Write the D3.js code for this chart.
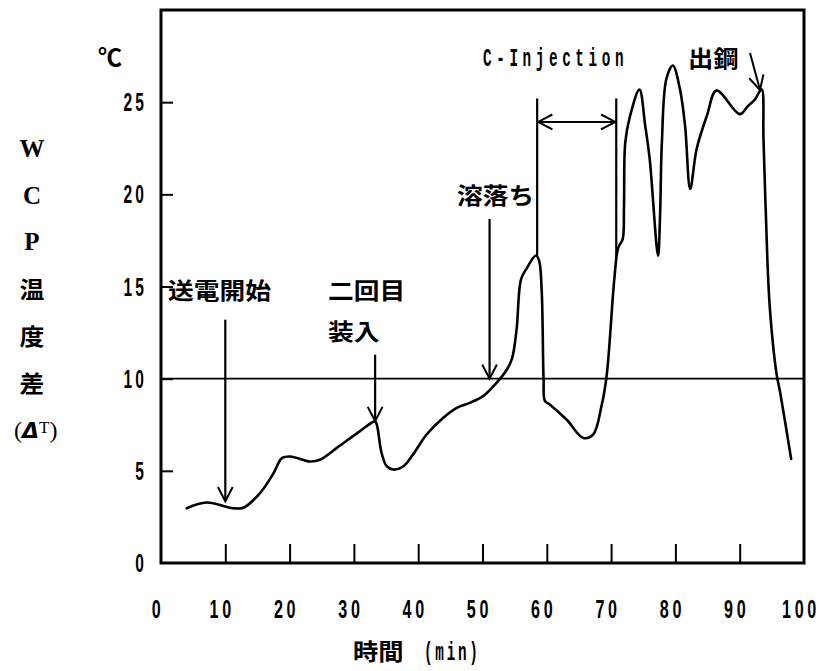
<!DOCTYPE html>
<html>
<head>
<meta charset="utf-8">
<script src="https://cdn.jsdelivr.net/npm/d3@7"></script>
<style>
  html, body { margin: 0; padding: 0; background: #fff; }
  svg { display: block; }
</style>
</head>
<body>
<svg id="chart" width="819" height="671"></svg>
<script>
// WCP temperature difference during one heat (time in minutes, ΔT in ℃)
const timeMin = [
  4.0, 7.1, 11.2, 12.8, 15.4, 17.5, 18.8, 20.1, 23.2, 24.7,
  27.3, 30.9, 33.3, 33.6, 34.3, 35.1, 36.1, 37.7, 39.2, 41.3,
  43.9, 46.0, 48.1, 50.1, 52.2, 53.8, 54.6, 55.3, 56.0, 56.9,
  58.3, 58.8, 59.2, 59.5, 59.7, 60.5, 63.1, 65.7, 67.2, 68.5,
  69.3, 70.5, 71.1, 71.8, 72.0, 72.2, 72.9, 74.4, 75.3, 76.0,
  77.3, 77.6, 77.9, 78.6, 79.6, 80.7, 81.5, 82.3, 83.3, 84.9,
  86.4, 90.0, 91.3, 92.4, 93.4, 93.7, 94.3, 94.7, 95.7, 96.3,
  98.0
];
const deltaT = [
  2.97, 3.28, 2.97, 3.00, 3.79, 4.87, 5.69, 5.78, 5.51, 5.60,
  6.23, 7.14, 7.68, 7.45, 5.98, 5.25, 5.07, 5.25, 5.89, 6.97,
  7.88, 8.42, 8.70, 9.05, 9.78, 10.50, 11.10, 12.66, 15.40, 16.00,
  16.68, 16.40, 14.84, 9.95, 8.80, 8.59, 7.77, 6.78, 6.96, 8.50,
  10.13, 15.40, 17.10, 17.57, 19.20, 22.80, 24.18, 25.68, 23.73, 21.92,
  16.66, 18.66, 22.83, 26.27, 26.99, 25.72, 23.73, 20.29, 22.46, 24.27,
  25.63, 24.35, 24.80, 25.16, 25.70, 23.00, 16.49, 13.77, 10.33, 9.24,
  5.65
];

const xTicks = [0, 10, 20, 30, 40, 50, 60, 70, 80, 90, 100];
const yTicks = [0, 5, 10, 15, 20, 25];
const referenceLevel = 10;

const yTitleParts = ["W", "C", "P", "温", "度", "差"];
const unitLabel = "℃";
const xTitle = ["時間", "(min)"];

// event markers: label lines, time, arrow top value, arrow tip value
const eventNames = [["送電開始"], ["二回目", "装入"], ["溶落ち"]];
const eventTimes = [10, 33.3, 51.1];
const eventTops = [13.2, 11.3, 18.66];
const eventTips = [3.35, 7.7, 10.0];

const injectionLabel = "C-Injection";
const injectionStart = 58.5, injectionEnd = 70.8;
const tapLabel = "出鋼";

// ---------------------------------------------------------------
const svg = d3.select("#chart");
const ink = "#000";

const x = d3.scaleLinear().domain([0, 100]).range([161, 804]);
const y = d3.scaleLinear().domain([0, 30]).range([563, 10]);

const jp = "'Noto Sans CJK JP', 'Noto Sans CJK SC', sans-serif";
const num = "'Liberation Sans', 'DejaVu Sans', sans-serif";
const mono = "'Liberation Mono', 'DejaVu Sans Mono', monospace";

// text helper: draws condensed / stretched glyphs via a horizontal scale
function txt(px, py, s, o = {}) {
  const g = svg.append("g")
    .attr("transform", `translate(${px},${py}) scale(${o.sx || 1},1)`);
  const t = g.append("text")
    .attr("x", 0).attr("y", 0)
    .attr("font-family", o.family || jp)
    .attr("font-size", o.size || 23)
    .attr("font-weight", o.weight || "bold")
    .attr("text-anchor", o.anchor || "start")
    .attr("fill", ink)
    .text(s);
  if (o.spacing) t.attr("letter-spacing", o.spacing);
  return t;
}

// open V arrow head at (x2,y2) pointing away from (x1,y1)
function head(x1, y1, x2, y2, len = 16, spread = 0.48) {
  const a = Math.atan2(y2 - y1, x2 - x1);
  const pts = [-spread, spread].map(d => [x2 - len * Math.cos(a + d), y2 - len * Math.sin(a + d)]);
  svg.append("path")
    .attr("d", `M${pts[0][0]},${pts[0][1]}L${x2},${y2}L${pts[1][0]},${pts[1][1]}`)
    .attr("fill", "none").attr("stroke", ink).attr("stroke-width", 2)
    .attr("stroke-linejoin", "miter");
}
function arrow(x1, y1, x2, y2, w = 2.2) {
  svg.append("line").attr("x1", x1).attr("y1", y1).attr("x2", x2).attr("y2", y2)
    .attr("stroke", ink).attr("stroke-width", w);
  head(x1, y1, x2, y2);
}

// ----- frame -----
const [x0, x1] = x.range();
const [y0, y1] = y.range();
svg.append("rect")
  .attr("x", x0).attr("y", y1).attr("width", x1 - x0).attr("height", y0 - y1)
  .attr("fill", "none").attr("stroke", ink).attr("stroke-width", 3);

// x axis: inward ticks along the bottom, labels below
const xAxis = d3.axisTop(x).tickValues(xTicks.slice(1, -1)).tickSize(19).tickFormat("");
svg.append("g").attr("transform", `translate(0,${y0})`).call(xAxis)
  .call(g => g.select(".domain").remove())
  .call(g => g.selectAll("line").attr("stroke", ink).attr("stroke-width", 2));
xTicks.forEach(v => {
  txt(x(v) - 3, 618, String(v), { family: num, size: 26, sx: 0.62, anchor: "middle", spacing: 6, weight: "bold" });
});

// y axis: inward ticks on the left, labels to the left
const yAxis = d3.axisRight(y).tickValues(yTicks.slice(1)).tickSize(12).tickFormat("");
svg.append("g").attr("transform", `translate(${x0},0)`).call(yAxis)
  .call(g => g.select(".domain").remove())
  .call(g => g.selectAll("line").attr("stroke", ink).attr("stroke-width", 2));
yTicks.forEach(v => {
  txt(147, y(v) + 9, String(v), { family: num, size: 25, sx: 0.62, anchor: "end", spacing: 5, weight: "bold" });
});

// unit
txt(110, 66, unitLabel, { size: 24, anchor: "middle", weight: "bold" });

// vertical y title
yTitleParts.forEach((s, i) => {
  const cy = 149 + i * 46.7;
  const latin = /[A-Z]/.test(s);
  txt(32, cy + (latin ? 8 : 9), s, {
    family: latin ? "'Liberation Serif', 'DejaVu Serif', serif" : jp,
    size: latin ? 25 : 23, anchor: "middle", weight: "bold", sx: latin ? 1 : 1.08
  });
});
{
  const t = txt(14, 438, "(", { family: "'Liberation Serif', serif", size: 24, weight: "normal" });
  t.append("tspan").attr("font-family", "'DejaVu Sans', sans-serif").attr("font-weight", "bold")
    .attr("font-style", "italic").attr("font-size", 22).text("Δ");
  t.append("tspan").attr("font-size", 17).attr("dy", -5).text("T");
  t.append("tspan").attr("dy", 5).text(")");
}

// x title
txt(353, 660, xTitle[0], { size: 23, sx: 1.1 });
txt(424, 660, xTitle[1], { family: mono, size: 26, sx: 0.55, spacing: 5, weight: "bold" });

// ----- reference level -----
svg.append("line")
  .attr("x1", x0).attr("x2", x1).attr("y1", y(referenceLevel)).attr("y2", y(referenceLevel))
  .attr("stroke", ink).attr("stroke-width", 1.6);

// ----- data curve -----
const series = timeMin.map((t, i) => [t, deltaT[i]]);
const line = d3.line()
  .x(d => x(d[0])).y(d => y(d[1]))
  .curve(d3.curveCatmullRom.alpha(0.5));
svg.append("path")
  .attr("d", line(series))
  .attr("fill", "none").attr("stroke", ink).attr("stroke-width", 2.6)
  .attr("stroke-linejoin", "round").attr("stroke-linecap", "round");

// ----- event arrows and labels -----
eventTimes.forEach((t, i) => {
  arrow(x(t), y(eventTops[i]), x(t), y(eventTips[i]));
});
const lbl = { size: 23, sx: 1.12 };
txt(168, 299, eventNames[0][0], lbl);
txt(328, 299, eventNames[1][0], lbl);
txt(328, 340, eventNames[1][1], lbl);
txt(457, 204, eventNames[2][0], lbl);

// carbon injection period
const topVal = 25.2, barVal = 23.93;
svg.append("line").attr("x1", x(injectionStart)).attr("x2", x(injectionStart))
  .attr("y1", y(topVal)).attr("y2", y(16.68)).attr("stroke", ink).attr("stroke-width", 2.2);
svg.append("line").attr("x1", x(injectionEnd)).attr("x2", x(injectionEnd))
  .attr("y1", y(topVal)).attr("y2", y(16.6)).attr("stroke", ink).attr("stroke-width", 2.2);
svg.append("line").attr("x1", x(injectionStart) + 1).attr("x2", x(injectionEnd) - 1)
  .attr("y1", y(barVal)).attr("y2", y(barVal)).attr("stroke", ink).attr("stroke-width", 2);
head(x(injectionEnd), y(barVal), x(injectionStart) + 1, y(barVal));
head(x(injectionStart), y(barVal), x(injectionEnd) - 1, y(barVal));
txt(483, 66, injectionLabel, { family: mono, size: 26, sx: 0.55, spacing: 8.4, weight: "bold" });

// tapping
arrow(x(91.6), y(27.67), x(93.16), y(25.66), 2);
txt(688, 67, tapLabel, { size: 23, sx: 1.1 });
</script>
</body>
</html>
